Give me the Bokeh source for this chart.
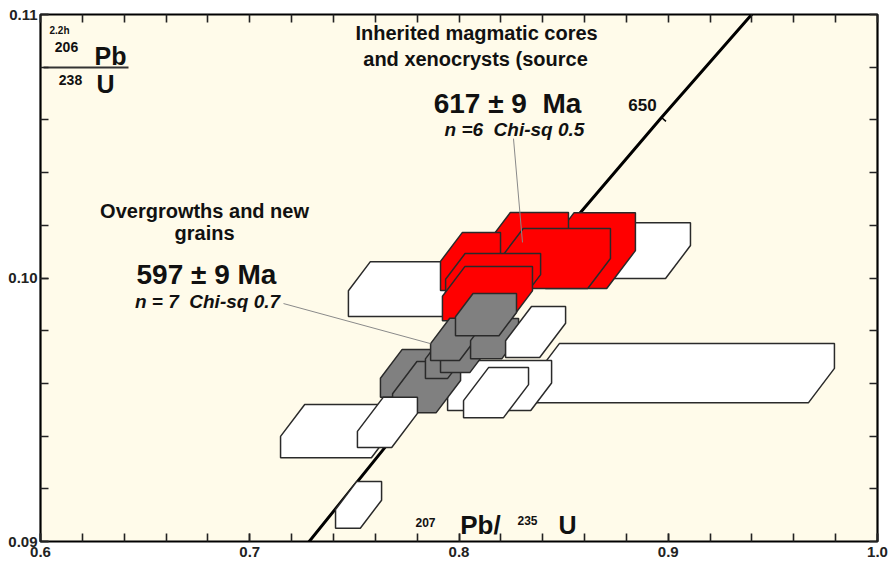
import numpy as np
from bokeh.plotting import figure
from bokeh.models import Label, LinearAxis, FixedTicker
from bokeh.embed import file_html
from bokeh.resources import INLINE

# ---- U-Pb analyses (listed in plotting order) ----
# 207Pb/235U, its 2-sigma error, 206Pb/238U, its 2-sigma error, error correlation
pb207_u235 = [0.7775, 0.8884, 0.9075, 0.8628, 0.8332, 0.8461, 0.8055, 0.8163, 0.8136,
              0.8194, 0.7768, 0.7845, 0.7928, 0.8036, 0.7979, 0.8170, 0.8129,
              0.8366, 0.8177, 0.7422, 0.7658, 0.7520]
err_207_235 = [0.03035, 0.02222, 0.07192, 0.02151, 0.01912, 0.02628, 0.01434, 0.02270, 0.02151,
               0.02485, 0.01434, 0.01625, 0.00884, 0.01243, 0.01147, 0.01147, 0.01458,
               0.01434, 0.01553, 0.02748, 0.01434, 0.01100]
pb206_u238 = [0.09958, 0.10104, 0.09639, 0.10104, 0.10139, 0.10074, 0.10063, 0.10004, 0.09941,
              0.09592, 0.09638, 0.09586, 0.09693, 0.09736, 0.09767, 0.09770, 0.09861,
              0.09795, 0.09565, 0.09419, 0.09452, 0.09139]
err_206_238 = [0.00104, 0.00106, 0.00112, 0.00144, 0.00110, 0.00114, 0.00110, 0.00089, 0.00103,
               0.00095, 0.00091, 0.00097, 0.00074, 0.00095, 0.00080, 0.00076, 0.00080,
               0.00097, 0.00095, 0.00101, 0.00095, 0.00089]
err_corr = [0.53, 0.59, 0.58, 0.50, 0.50, 0.50, 0.50, 0.55, 0.55,
            0.55, 0.60, 0.63, 0.50, 0.60, 0.60, 0.55, 0.55,
            0.67, 0.66, 0.60, 0.68, 0.60]
# "core" = inherited magmatic cores (617 Ma), "rim" = overgrowths (597 Ma), "other" = excluded
population = ["other", "other", "other", "core", "core", "core", "core", "core", "core",
              "other", "rim", "rim", "rim", "rim", "rim", "rim", "rim",
              "other", "other", "other", "other", "other"]

# ---- Concordia curve ----
conc_age = [550, 580, 600, 620, 650, 680]
conc_x = [0.71887, 0.77041, 0.80563, 0.84155, 0.89677, 0.95365]
conc_y = [0.08906, 0.09414, 0.09754, 0.10095, 0.10609, 0.11125]
marked_age = 650

# ---- Axis tick labels ----
x_label_values = [0.6, 0.7, 0.8, 0.9, 1.0]
x_label_texts = ["0.6", "0.7", "0.8", "0.9", "1.0"]
y_label_values = [0.09, 0.10, 0.11]
y_label_texts = ["0.09", "0.10", "0.11"]

X0, X1, Y0, Y1 = 0.6, 1.0, 0.09, 0.11
FW, FH = 837, 527
FONT = "Liberation Sans"
CREAM = "#FFFBEA"
NB = "\u00a0"


def dx(px):
    return px * (X1 - X0) / FW


def dy(px):
    return px * (Y1 - Y0) / FH


p = figure(width=890, height=565, frame_width=FW, frame_height=FH,
           x_range=(X0, X1), y_range=(Y0, Y1),
           output_backend="svg", toolbar_location=None,
           min_border_left=40, min_border_right=13, min_border_top=14, min_border_bottom=24,
           background_fill_color=CREAM, border_fill_color="white")
p.grid.visible = False
p.outline_line_color = "black"
p.outline_line_width = 2.2
p.outline_line_alpha = 1.0

p.add_layout(LinearAxis(), "above")
p.add_layout(LinearAxis(), "right")

x_ticks = list(np.round(np.arange(X0, X1 + 1e-9, 0.02), 3))
y_ticks = list(np.round(np.arange(Y0, Y1 + 1e-9, 0.002), 4))

p.below[0].ticker = FixedTicker(ticks=x_label_values, minor_ticks=x_ticks)
p.below[0].major_label_overrides = {v: t for v, t in zip(x_label_values, x_label_texts)}
p.left[0].ticker = FixedTicker(ticks=y_label_values, minor_ticks=y_ticks)
p.left[0].major_label_overrides = {v: t for v, t in zip(y_label_values, y_label_texts)}
p.above[0].ticker = FixedTicker(ticks=[], minor_ticks=x_ticks)
p.right[0].ticker = FixedTicker(ticks=[], minor_ticks=y_ticks)

for ax in p.axis:
    ax.axis_line_color = None
    ax.major_tick_in = 8
    ax.major_tick_out = 0
    ax.minor_tick_in = 8
    ax.minor_tick_out = 0
    ax.major_tick_line_color = "#222222"
    ax.minor_tick_line_color = "#222222"
    ax.major_tick_line_width = 1.6
    ax.minor_tick_line_width = 1.6
    ax.major_label_text_font = FONT
    ax.major_label_text_font_size = "15px"
    ax.major_label_text_font_style = "bold"
    ax.major_label_text_color = "#222222"
p.below[0].major_label_standoff = 5
p.left[0].major_label_standoff = 3

# ---- error boxes (hexagons: boxes with corners cut along the correlation) ----
fill = {"core": "#FF0000", "rim": "#808080", "other": "#FFFFFF"}
cut_slope = 0.105
xs, ys, colors = [], [], []
for x, sx, y, sy, r, pop in zip(pb207_u235, err_207_235, pb206_u238, err_206_238,
                                err_corr, population):
    x0, x1, y0, y1 = x - sx, x + sx, y - sy, y + sy
    vc = r * 2 * sy
    hc = min(vc / cut_slope, 1.8 * sx)
    xs.append([x0 + hc, x1, x1, x1 - hc, x0, x0])
    ys.append([y1, y1, y0 + vc, y0, y0, y1 - vc])
    colors.append(fill[pop])

# concordia
p.line(conc_x, conc_y, line_color="black", line_width=3)
i = conc_age.index(marked_age)
p.segment(x0=[conc_x[i]], y0=[conc_y[i]], x1=[conc_x[i] + dx(4.5)], y1=[conc_y[i] - dy(3.8)],
          line_color="black", line_width=1.5)

p.patches(xs, ys, fill_color=colors, line_color="#2a2a2a", line_width=1.5)

# leader lines from the age labels to the two populations
p.segment(x0=[0.82604, 0.71613], y0=[0.10529, 0.09903],
          x1=[0.83034, 0.78638], y1=[0.10135, 0.09751],
          line_color="#8a8a8a", line_width=1)


def label(x, y, text, size, style="bold", align="center", baseline="middle", color="#111111"):
    p.add_layout(Label(x=x, y=y, text=text, text_font=FONT, text_font_size=f"{size}px",
                       text_font_style=style, text_align=align, text_baseline=baseline,
                       text_color=color))


# y-axis title (206Pb / 238U)
label(X0 + dx(19), Y1 - dy(16), "2.2h", 10)
label(X0 + dx(26), Y1 - dy(32), "206", 14)
label(X0 + dx(70), Y1 - dy(41), "Pb", 25)
p.segment(x0=[X0 + dx(3)], y0=[Y1 - dy(53)], x1=[X0 + dx(88)], y1=[Y1 - dy(53)],
          line_color="#333333", line_width=2)
label(X0 + dx(30), Y1 - dy(65), "238", 14)
label(X0 + dx(65), Y1 - dy(69), "U", 25)

# x-axis title (207Pb / 235U)
label(X0 + dx(385), Y0 + dy(19), "207", 12)
label(X0 + dx(440), Y0 + dy(17), "Pb/", 26)
label(X0 + dx(487), Y0 + dy(21), "235", 12)
label(X0 + dx(527), Y0 + dy(17), "U", 25)

# concordia age mark
label(0.88769, 0.10655, str(marked_age), 17)

# population annotations
label(0.8084, 0.10928, "Inherited magmatic cores", 20)
label(0.8079, 0.10833, "and xenocrysts (source", 20)
label(0.8232, 0.10662, f"617 \u00b1 9 {NB}Ma", 28)
label(0.8265, 0.10564, f"n =6 {NB}Chi-sq 0.5", 19, "bold italic")

label(0.6784, 0.10256, "Overgrowths and new", 20)
label(0.6784, 0.10169, "grains", 20)
label(0.6793, 0.10013, "597 \u00b1 9 Ma", 28)
label(0.6798, 0.09911, f"n = 7 {NB}Chi-sq 0.7", 19, "bold italic")

open("out.html", "w").write(file_html(p, INLINE))
